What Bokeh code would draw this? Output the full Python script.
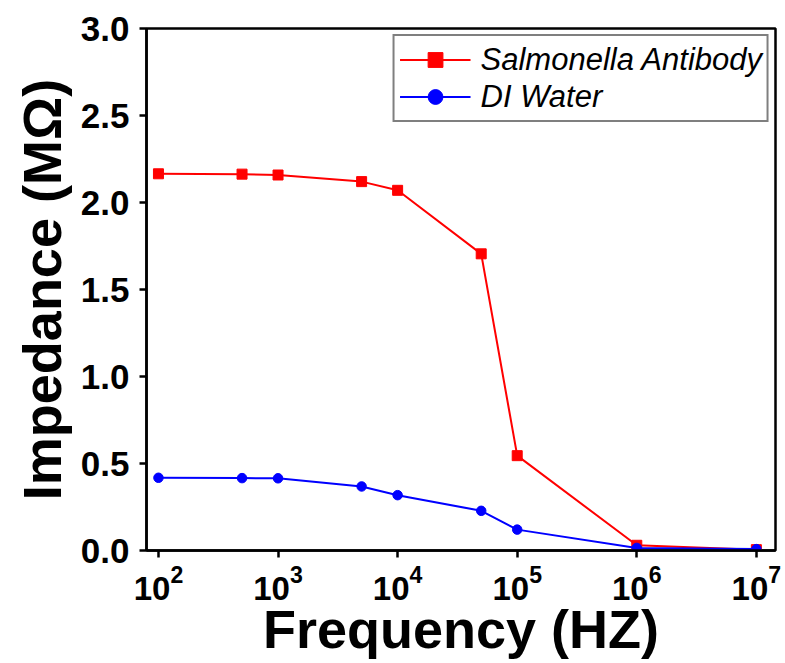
from bokeh.plotting import figure
from bokeh.models import Legend, LegendItem, FixedTicker, Range1d, PrintfTickFormatter
from bokeh.embed import file_html
from bokeh.resources import INLINE

freq = [1e2, 5e2, 1e3, 5e3, 1e4, 5e4, 1e5, 1e6, 1e7]
salmonella = [2.165, 2.163, 2.158, 2.12, 2.07, 1.705, 0.545, 0.03, 0.005]
di_water = [0.418, 0.416, 0.415, 0.368, 0.318, 0.228, 0.12, 0.015, 0.008]
x_ticks = [1e2, 1e3, 1e4, 1e5, 1e6, 1e7]
y_ticks = [0.0, 0.5, 1.0, 1.5, 2.0, 2.5, 3.0]

FONT = "Liberation Sans"

p = figure(width=785, height=663, x_axis_type="log", output_backend="svg",
           toolbar_location=None, x_range=Range1d(10**1.9, 10**7.16),
           y_range=Range1d(0, 3.0))
p.min_border_left = 146
p.min_border_right = 10
p.min_border_top = 28
p.min_border_bottom = 113
p.background_fill_color = "white"
p.border_fill_color = "white"
p.grid.visible = False
p.outline_line_color = "black"
p.outline_line_width = 2.5

r1l = p.line(freq, salmonella, line_color="#ff0000", line_width=2)
r1m = p.scatter(freq, salmonella, marker="square", size=10, fill_color="#ff0000", line_color="#ff0000")
r2l = p.line(freq, di_water, line_color="#0000ff", line_width=2)
r2m = p.scatter(freq, di_water, marker="circle", size=9.5, fill_color="#0000ff", line_color="#0000ff")

for ax in (p.xaxis[0], p.yaxis[0]):
    ax.axis_line_width = 2.5
    ax.axis_line_color = "black"
    ax.major_tick_line_width = 2.5
    ax.major_tick_in = 0
    ax.major_tick_out = 7
    ax.minor_tick_line_color = None
    ax.major_label_text_font = FONT
    ax.major_label_text_font_style = "bold"
    ax.major_label_text_color = "black"
    ax.axis_label_text_font = FONT
    ax.axis_label_text_font_style = "bold"
    ax.axis_label_text_color = "black"

p.xaxis.ticker = FixedTicker(ticks=x_ticks)
p.yaxis.ticker = FixedTicker(ticks=y_ticks)
p.yaxis.formatter = PrintfTickFormatter(format="%.1f")
p.xaxis.major_label_text_font_size = "33px"
p.yaxis.major_label_text_font_size = "35px"
p.xaxis.axis_label = "Frequency (HZ)"
p.yaxis.axis_label = "Impedance (MΩ)"
p.xaxis.axis_label_text_font_size = "54px"
p.yaxis.axis_label_text_font_size = "54px"
p.xaxis.major_label_standoff = 7
p.yaxis.major_label_standoff = 10
p.xaxis.axis_label_standoff = -4
p.yaxis.axis_label_standoff = 6

legend = Legend(items=[
    LegendItem(label="Salmonella Antibody", renderers=[r1l, r1m]),
    LegendItem(label="DI Water", renderers=[r2l, r2m]),
], location="top_right")
legend.label_text_font = FONT
legend.label_text_font_style = "italic"
legend.label_text_font_size = "31px"
legend.label_text_color = "black"
legend.border_line_color = "black"
legend.border_line_width = 2
legend.margin = 6
legend.padding = 5
legend.spacing = 0
legend.glyph_width = 71
legend.label_standoff = 10
legend.label_height = 37
legend.glyph_height = 37
legend.background_fill_alpha = 1
p.add_layout(legend)

open("out.html", "w").write(file_html(p, INLINE))
